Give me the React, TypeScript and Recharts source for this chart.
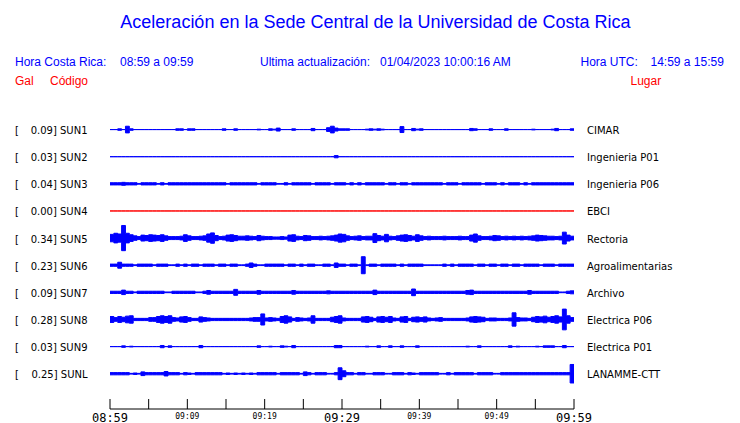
import { ComposedChart, Area, XAxis, YAxis } from "recharts";

// station rows, top to bottom
const codes = ["SUN1", "SUN2", "SUN3", "SUN4", "SUN5", "SUN6", "SUN7", "SUN8", "SUN9", "SUNL"];
const places = [
  "CIMAR",
  "Ingenieria P01",
  "Ingenieria P06",
  "EBCI",
  "Rectoria",
  "Agroalimentarias",
  "Archivo",
  "Electrica P06",
  "Electrica P01",
  "LANAMME-CTT",
];
const peakGal = [0.09, 0.03, 0.04, 0.0, 0.34, 0.23, 0.09, 0.28, 0.03, 0.25];

// x axis: minutes from 08:59, labels every 10 min
const tickMinutes = [0, 5, 10, 15, 20, 25, 30, 35, 40, 45, 50, 55, 60];
const timeLabels = ["08:59", "09:09", "09:19", "09:29", "09:39", "09:49", "09:59"];

// half-amplitude envelope per 30 s, in hundredths of Gal
const sun1 = [
  0, 0, 2, 0, 9, 2, 0, 0, 0, 0, 0, 0, 0, 0, 0, 0, 0, 2, 2, 0,
  2, 2, 0, 0, 0, 0, 0, 0, 0, 2, 0, 0, 2, 0, 0, 0, 0, 0, 1, 0,
  0, 2, 1, 4, 0, 0, 0, 2, 0, 0, 0, 0, 3, 0, 0, 0, 5, 9, 4, 2,
  2, 2, 0, 0, 0, 0, 1, 2, 1, 2, 1, 0, 0, 0, 0, 8, 0, 0, 3, 1,
  2, 0, 0, 0, 0, 0, 0, 0, 0, 0, 0, 0, 0, 3, 2, 0, 0, 0, 2, 0,
  0, 0, 2, 0, 0, 0, 0, 0, 0, 1, 0, 0, 0, 0, 1, 3, 0, 0, 0, 2,
];
const sun2 = [
  0, 0, 0, 0, 0, 0, 0, 0, 0, 0, 0, 0, 0, 0, 0, 0, 0, 0, 0, 0,
  0, 0, 0, 0, 0, 0, 0, 0, 0, 0, 0, 0, 0, 0, 0, 0, 0, 0, 0, 0,
  0, 0, 0, 0, 0, 0, 0, 0, 0, 0, 0, 0, 0, 0, 0, 0, 0, 0, 3, 0,
  0, 0, 0, 0, 0, 0, 0, 0, 0, 0, 0, 0, 0, 0, 0, 0, 0, 0, 0, 0,
  0, 0, 0, 0, 0, 0, 0, 0, 0, 0, 0, 0, 0, 0, 0, 0, 0, 0, 0, 0,
  0, 0, 0, 0, 0, 0, 0, 0, 0, 0, 0, 0, 0, 0, 0, 0, 0, 0, 0, 0,
];
const sun3 = [
  3, 3, 3, 4, 3, 3, 3, 1, 3, 3, 3, 3, 1, 3, 1, 3, 3, 3, 3, 3,
  3, 3, 3, 3, 3, 3, 3, 3, 3, 3, 1, 3, 3, 3, 3, 3, 3, 3, 1, 3,
  3, 3, 3, 1, 1, 3, 1, 3, 3, 3, 3, 3, 1, 3, 3, 3, 3, 1, 3, 3,
  3, 1, 3, 1, 3, 1, 3, 3, 3, 3, 3, 1, 3, 3, 1, 3, 3, 1, 3, 3,
  3, 3, 3, 3, 3, 3, 1, 3, 3, 3, 1, 3, 3, 3, 3, 3, 1, 3, 3, 3,
  1, 3, 1, 3, 3, 3, 1, 3, 1, 3, 3, 3, 3, 3, 3, 3, 3, 3, 3, 3,
];
const sun4 = [
  0, 0, 0, 0, 0, 0, 0, 0, 0, 0, 0, 0, 0, 0, 0, 0, 0, 0, 0, 0,
  0, 0, 0, 0, 0, 0, 0, 0, 0, 0, 0, 0, 0, 0, 0, 0, 0, 0, 0, 0,
  0, 0, 0, 0, 0, 0, 0, 0, 0, 0, 0, 0, 0, 0, 0, 0, 0, 0, 0, 0,
  0, 0, 0, 0, 0, 0, 0, 0, 0, 0, 0, 0, 0, 0, 0, 0, 0, 0, 0, 0,
  0, 0, 0, 0, 0, 0, 0, 0, 0, 0, 0, 0, 0, 0, 0, 0, 0, 0, 0, 0,
  0, 0, 0, 0, 0, 0, 0, 0, 0, 0, 0, 0, 0, 0, 0, 0, 0, 0, 0, 0,
];
const sun5 = [
  10, 13, 11, 34, 13, 9, 6, 4, 8, 7, 9, 8, 7, 9, 6, 4, 4, 4, 5, 9,
  6, 4, 4, 5, 6, 11, 14, 7, 4, 5, 8, 9, 7, 5, 5, 6, 5, 4, 7, 5,
  4, 4, 3, 3, 4, 3, 8, 9, 5, 4, 7, 6, 4, 4, 5, 4, 5, 6, 8, 11,
  10, 6, 4, 5, 6, 4, 5, 5, 12, 7, 5, 10, 5, 4, 6, 8, 9, 7, 5, 9,
  6, 4, 5, 4, 4, 4, 5, 4, 4, 4, 5, 4, 4, 8, 11, 6, 4, 4, 5, 7,
  6, 4, 5, 4, 5, 4, 5, 4, 5, 6, 8, 7, 6, 5, 5, 4, 5, 16, 8, 5,
];
const sun6 = [
  3, 3, 8, 3, 3, 3, 1, 3, 3, 3, 3, 1, 3, 3, 3, 1, 1, 3, 1, 3,
  1, 3, 3, 1, 3, 3, 3, 1, 3, 3, 1, 3, 3, 1, 1, 3, 6, 3, 1, 1,
  3, 3, 3, 3, 3, 1, 3, 3, 1, 3, 1, 3, 3, 1, 1, 3, 3, 1, 6, 3,
  3, 1, 3, 3, 1, 23, 1, 3, 3, 1, 3, 3, 3, 3, 1, 3, 1, 3, 3, 3,
  3, 1, 1, 1, 1, 1, 3, 1, 3, 1, 3, 3, 3, 3, 1, 3, 3, 1, 3, 3,
  1, 3, 3, 1, 3, 3, 1, 3, 3, 3, 3, 1, 3, 3, 3, 1, 3, 3, 3, 3,
];
const sun7 = [
  3, 3, 3, 6, 3, 3, 1, 3, 3, 3, 3, 3, 3, 3, 1, 1, 3, 3, 3, 3,
  3, 3, 1, 1, 3, 5, 3, 3, 3, 3, 3, 3, 8, 3, 3, 3, 3, 3, 5, 3,
  3, 3, 3, 3, 3, 3, 3, 5, 3, 3, 3, 3, 3, 3, 3, 3, 4, 3, 3, 3,
  3, 3, 3, 3, 3, 3, 3, 3, 6, 3, 3, 3, 3, 3, 3, 3, 3, 3, 9, 3,
  3, 3, 3, 3, 3, 3, 3, 3, 3, 3, 3, 3, 5, 6, 3, 3, 3, 3, 3, 3,
  3, 3, 3, 3, 3, 3, 3, 3, 5, 3, 3, 3, 3, 3, 3, 3, 1, 1, 3, 4,
];
const sun8 = [
  8, 5, 8, 6, 9, 10, 3, 3, 3, 3, 5, 5, 8, 10, 8, 10, 5, 4, 7, 8,
  5, 3, 3, 7, 5, 4, 3, 3, 3, 3, 3, 3, 3, 3, 3, 3, 4, 5, 5, 15,
  4, 5, 4, 3, 8, 10, 7, 3, 5, 4, 3, 4, 10, 3, 3, 3, 3, 6, 8, 10,
  4, 3, 3, 3, 3, 7, 8, 6, 3, 7, 8, 6, 8, 4, 3, 7, 8, 3, 6, 7,
  5, 7, 4, 3, 4, 5, 3, 3, 3, 3, 3, 3, 4, 7, 8, 7, 6, 3, 4, 4,
  3, 3, 3, 4, 18, 5, 4, 4, 3, 6, 8, 7, 9, 6, 8, 10, 7, 28, 10, 5,
];
const sun9 = [
  0, 0, 0, 2, 0, 1, 0, 0, 0, 0, 0, 0, 0, 3, 0, 2, 0, 0, 0, 0,
  0, 0, 0, 3, 0, 0, 0, 0, 0, 0, 0, 0, 0, 0, 0, 0, 0, 0, 2, 0,
  0, 1, 0, 0, 2, 1, 0, 3, 0, 0, 0, 0, 0, 0, 0, 0, 0, 0, 3, 3,
  0, 0, 0, 0, 0, 0, 1, 0, 0, 2, 0, 0, 2, 0, 0, 2, 0, 0, 0, 2,
  0, 0, 0, 0, 0, 0, 0, 0, 0, 0, 0, 0, 1, 0, 0, 2, 0, 0, 0, 0,
  0, 0, 0, 2, 0, 1, 0, 0, 0, 0, 1, 0, 2, 2, 2, 0, 0, 3, 0, 0,
];
const sunl = [
  3, 3, 3, 3, 3, 1, 2, 1, 5, 3, 3, 3, 3, 3, 6, 3, 3, 3, 1, 3,
  2, 1, 3, 3, 3, 3, 3, 3, 3, 1, 2, 1, 2, 1, 2, 1, 2, 1, 3, 3,
  3, 3, 3, 1, 3, 3, 3, 3, 3, 1, 5, 3, 1, 3, 3, 3, 1, 1, 3, 16,
  8, 3, 3, 1, 3, 3, 1, 1, 3, 3, 3, 1, 1, 3, 3, 3, 1, 3, 2, 1,
  3, 3, 3, 3, 3, 1, 1, 3, 1, 3, 3, 3, 3, 3, 1, 3, 3, 3, 3, 1,
  1, 3, 3, 3, 3, 3, 3, 3, 3, 3, 3, 3, 3, 3, 3, 3, 3, 3, 3, 25,
];

const traces = [sun1, sun2, sun3, sun4, sun5, sun6, sun7, sun8, sun9, sunl];
const traceColors = ["#0000ff", "#0000ff", "#0000ff", "#ff0000", "#0000ff", "#0000ff", "#0000ff", "#0000ff", "#0000ff", "#0000ff"];

const STEP_MIN = 0.5;
const GAL_PER_ROW = 0.733;
const N = sun1.length;

// one row per 30 s window (last window repeated to close the hour);
// each station is a range [center - a, center + a]
const data = Array.from({ length: N + 1 }, (_, i) => {
  const row: Record<string, any> = { t: i * STEP_MIN };
  traces.forEach((tr, s) => {
    const center = 9 - s;
    const a = tr[Math.min(i, N - 1)] / 100 / GAL_PER_ROW;
    row[codes[s]] = [center - a, center + a];
  });
  return row;
});

const BLUE = "#0000ff";
const RED = "#ff0000";
const SANS = "'Liberation Sans', Arial, sans-serif";

function TimeTick({ x, y, payload }: any) {
  const m = payload.value;
  const label = m % 10 === 0 ? timeLabels[m / 10] : null;
  const major = m % 30 === 0;
  return (
    <g>
      <line x1={x} x2={x} y1={y - 10} y2={y} stroke="#000" strokeWidth={1} />
      {label && (
        <text
          x={x}
          y={major ? y + 12.5 : y + 9.5}
          textAnchor="middle"
          fontFamily="'DejaVu Sans Mono', monospace"
          fontSize={major ? 12 : 8}
          fill="#000"
        >
          {label}
        </text>
      )}
    </g>
  );
}

function CodeTick({ x, y, payload }: any) {
  const s = 9 - payload.value;
  return (
    <g fontFamily="'DejaVu Sans', sans-serif" fontSize={10} fill="#000">
      <text x={15} y={y + 4.5}>[</text>
      <text x={x - 22.5} y={y + 4.5} textAnchor="end">
        {peakGal[s].toFixed(2)}] {codes[s]}
      </text>
    </g>
  );
}

function PlaceTick({ x, y, payload }: any) {
  const s = 9 - payload.value;
  return (
    <text x={x} y={y + 4.5} fontFamily="'DejaVu Sans', sans-serif" fontSize={10} fill="#000">
      {places[s]}
    </text>
  );
}

export default function App() {
  const rowTicks = [0, 1, 2, 3, 4, 5, 6, 7, 8, 9];
  return (
    <div style={{ position: "absolute", left: 0, top: 0, width: 740, height: 423, background: "#fff" }}>
      <ComposedChart width={740} height={423} data={data} margin={{ top: 116, right: 0, bottom: 0, left: 0 }}>
        <XAxis
          dataKey="t"
          type="number"
          domain={[0, 60]}
          ticks={tickMinutes}
          interval={0}
          allowDataOverflow
          height={14}
          tickSize={0}
          tickMargin={0}
          tickLine={false}
          axisLine={{ stroke: "#000", strokeWidth: 1 }}
          tick={(p: any) => <TimeTick {...p} />}
        />
        <YAxis
          yAxisId="left"
          type="number"
          domain={[-1.3, 9.5]}
          allowDataOverflow
          ticks={rowTicks}
          interval={0}
          width={110}
          axisLine={false}
          tickLine={false}
          tickSize={0}
          tickMargin={0}
          tick={(p: any) => <CodeTick {...p} />}
        />
        <YAxis
          yAxisId="right"
          orientation="right"
          type="number"
          domain={[-1.3, 9.5]}
          allowDataOverflow
          ticks={rowTicks}
          interval={0}
          width={166}
          axisLine={false}
          tickLine={false}
          tickSize={0}
          tickMargin={13}
          tick={(p: any) => <PlaceTick {...p} />}
        />
        {codes.map((c, s) => (
          <Area
            key={c}
            yAxisId="left"
            dataKey={c}
            type="stepAfter"
            stroke={traceColors[s]}
            strokeWidth={1}
            fill={traceColors[s]}
            fillOpacity={1}
            dot={false}
            activeDot={false}
            isAnimationActive={false}
          />
        ))}
      </ComposedChart>
      <svg width={740} height={100} style={{ position: "absolute", left: 0, top: 0 }}>
        <g fontFamily={SANS}>
          <text x={375.5} y={28} textAnchor="middle" fontSize={18} fill={BLUE}>
            Aceleración en la Sede Central de la Universidad de Costa Rica
          </text>
          <g fontSize={12} fill={BLUE}>
            <text x={15} y={65.5}>Hora Costa Rica:</text>
            <text x={120} y={65.5}>08:59 a 09:59</text>
            <text x={260} y={65.5}>Ultima actualización:</text>
            <text x={380} y={65.5}>01/04/2023 10:00:16 AM</text>
            <text x={580.5} y={65.5}>Hora UTC:</text>
            <text x={650.5} y={65.5}>14:59 a 15:59</text>
          </g>
          <g fontSize={12} fill={RED}>
            <text x={15} y={85}>Gal</text>
            <text x={50} y={85}>Código</text>
            <text x={630.5} y={85}>Lugar</text>
          </g>
        </g>
      </svg>
    </div>
  );
}
